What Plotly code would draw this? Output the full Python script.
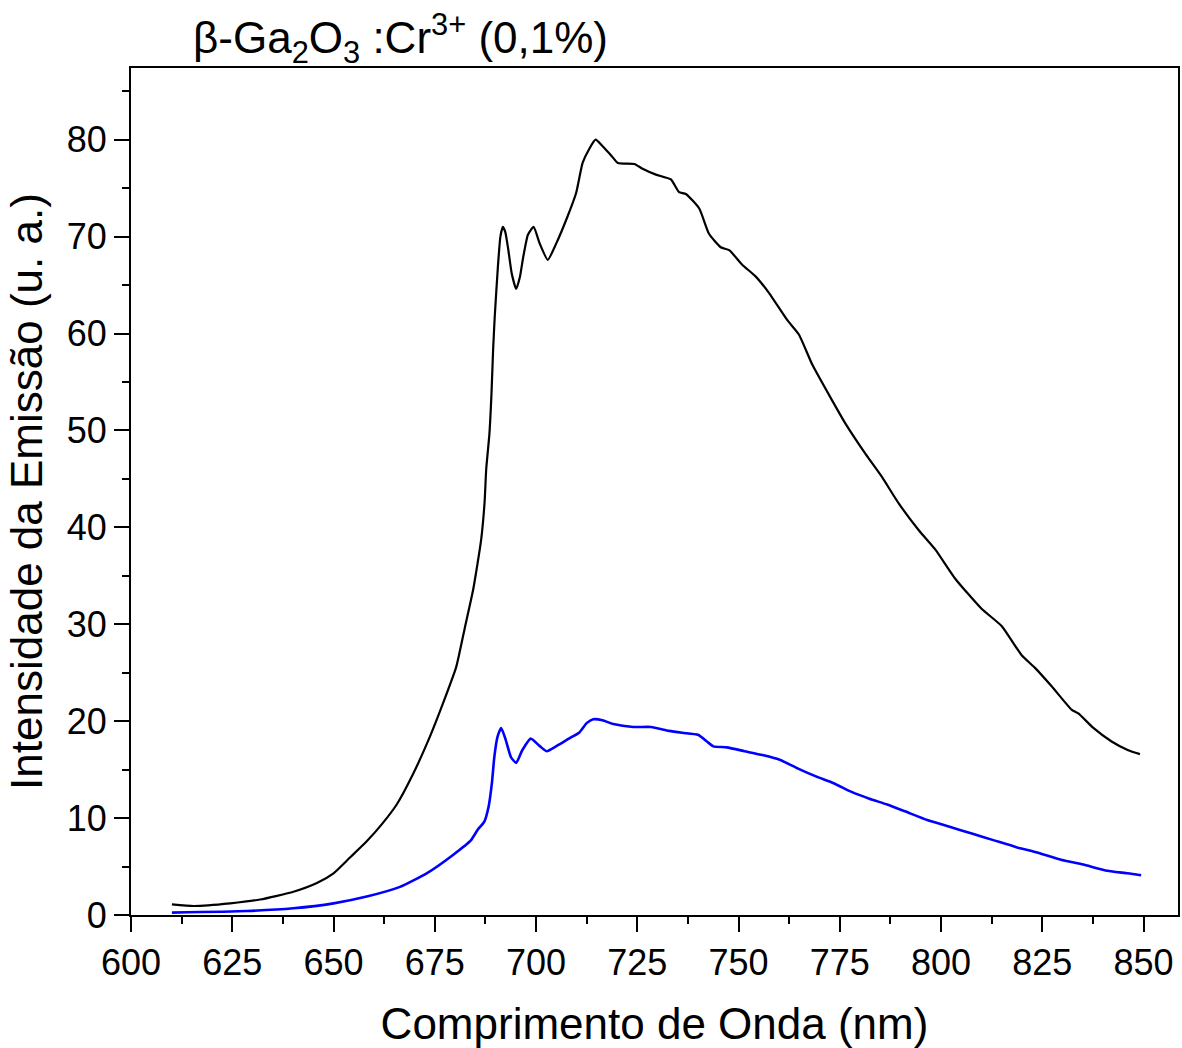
import plotly.graph_objects as go

# Black series (higher intensity)
wl_black = [610.1, 615.5, 624.5, 631.9, 640.1, 645.9, 650.0, 654.0, 658.2, 662.0,
            665.6, 669.7, 673.8, 677.0, 680.3, 682.4, 684.4, 685.3, 686.5, 687.3,
            687.7, 688.5, 689.0, 689.4, 689.8, 690.6, 691.2, 691.8, 692.4, 693.1,
            694.0, 695.1, 696.0, 696.8, 698.0, 699.4, 700.9, 702.9, 705.0, 707.8,
            709.9, 711.5, 713.2, 714.7, 716.5, 718.5, 720.2, 724.3, 726.3, 729.6,
            733.3, 735.3, 737.0, 740.3, 742.7, 745.6, 747.7, 750.9, 754.2, 757.5,
            762.0, 764.9, 768.2, 773.1, 776.4, 781.3, 785.4, 789.5, 794.5, 798.6,
            803.5, 810.0, 815.0, 819.9, 823.2, 827.3, 832.2, 833.9, 837.6, 842.1,
            846.2, 849.1]
int_black = [1.1, 0.93, 1.2, 1.6, 2.4, 3.3, 4.3, 5.9, 7.6, 9.4,
             11.4, 14.6, 18.4, 21.8, 25.6, 29.6, 33.4, 35.6, 38.9, 42.6,
             46.0, 49.7, 53.8, 58.3, 61.7, 67.0, 70.0, 71.0, 70.5, 68.8,
             66.2, 64.6, 65.8, 67.8, 70.2, 71.0, 69.3, 67.6, 69.3, 72.1,
             74.5, 77.6, 79.1, 80.0, 79.3, 78.4, 77.6, 77.5, 77.0, 76.4,
             75.9, 74.6, 74.4, 72.9, 70.3, 68.9, 68.6, 67.1, 65.9, 64.2,
             61.4, 59.9, 56.8, 53.1, 50.7, 47.6, 45.2, 42.5, 39.7, 37.7,
             34.7, 31.6, 29.8, 26.8, 25.5, 23.6, 21.2, 20.8, 19.3, 17.9,
             17.0, 16.6]

# Blue series (lower intensity)
wl_blue = [610.1, 628.6, 640.1, 650.0, 658.2, 666.4, 673.0, 679.5, 683.9, 685.6,
           687.2, 688.3, 689.1, 689.7, 690.5, 691.4, 692.5, 693.8, 695.1, 696.6,
           698.7, 701.0, 702.6, 705.3, 708.1, 710.6, 712.5, 714.1, 716.4, 719.1,
           724.0, 728.4, 732.8, 736.1, 740.0, 742.2, 743.8, 747.1, 751.5, 755.9,
           760.3, 764.7, 769.1, 773.5, 777.9, 782.3, 786.7, 791.1, 796.6, 802.1,
           807.6, 813.1, 818.6, 824.1, 829.6, 835.1, 840.6, 846.1, 849.4]
int_blue = [0.24, 0.41, 0.69, 1.2, 1.9, 2.9, 4.3, 6.2, 7.7, 8.8,
            9.6, 11.2, 13.6, 16.3, 18.4, 19.3, 18.1, 16.3, 15.7, 17.0,
            18.2, 17.4, 16.9, 17.5, 18.2, 18.8, 19.8, 20.2, 20.1, 19.7,
            19.4, 19.4, 19.0, 18.8, 18.6, 17.9, 17.4, 17.3, 16.9, 16.5,
            16.0, 15.1, 14.3, 13.6, 12.7, 12.0, 11.4, 10.7, 9.8, 9.1,
            8.4, 7.7, 7.0, 6.4, 5.7, 5.2, 4.6, 4.3, 4.1]

x_tickvals = [600, 625, 650, 675, 700, 725, 750, 775, 800, 825, 850]
y_tickvals = [0, 10, 20, 30, 40, 50, 60, 70, 80]

FONT = "Liberation Sans, Arial, sans-serif"

fig = go.Figure()
fig.add_trace(go.Scatter(x=wl_black, y=int_black, mode="lines", line_shape="spline",
                         line=dict(color="#000000", width=2.2, smoothing=0.5), showlegend=False))
fig.add_trace(go.Scatter(x=wl_blue, y=int_blue, mode="lines", line_shape="spline",
                         line=dict(color="#0000FF", width=2.6, smoothing=0.5), showlegend=False))

axis_common = dict(showline=True, linecolor="black", linewidth=2, mirror=True,
                   ticks="outside", ticklen=15, tickwidth=2, tickcolor="black",
                   showgrid=False, zeroline=False,
                   tickfont=dict(family=FONT, size=36, color="black"))

fig.update_xaxes(range=[600, 858.5], tickvals=x_tickvals,
                 minor=dict(dtick=12.5, tick0=600, ticklen=7, tickwidth=2, ticks="outside", tickcolor="black"),
                 title=dict(text="Comprimento de Onda (nm)", font=dict(family=FONT, size=44, color="black"), standoff=26),
                 **axis_common)
fig.update_yaxes(range=[0, 87.4], tickvals=y_tickvals,
                 minor=dict(dtick=5, tick0=0, ticklen=7, tickwidth=2, ticks="outside", tickcolor="black"),
                 title=dict(text="Intensidade da Emissão (u. a.)", font=dict(family=FONT, size=44, color="black"), standoff=10),
                 **axis_common)

fig.add_annotation(text="β-Ga<sub>2</sub>O<sub>3</sub> :Cr<sup>3+</sup> (0,1%)",
                   xref="paper", yref="paper", x=0.257, y=1.035,
                   xanchor="center", yanchor="middle", showarrow=False,
                   font=dict(family=FONT, size=44, color="black"))

fig.update_layout(width=1182, height=1048,
                  margin=dict(l=131, r=2, t=68, b=133),
                  plot_bgcolor="white", paper_bgcolor="white")

fig.write_html("out.html")
